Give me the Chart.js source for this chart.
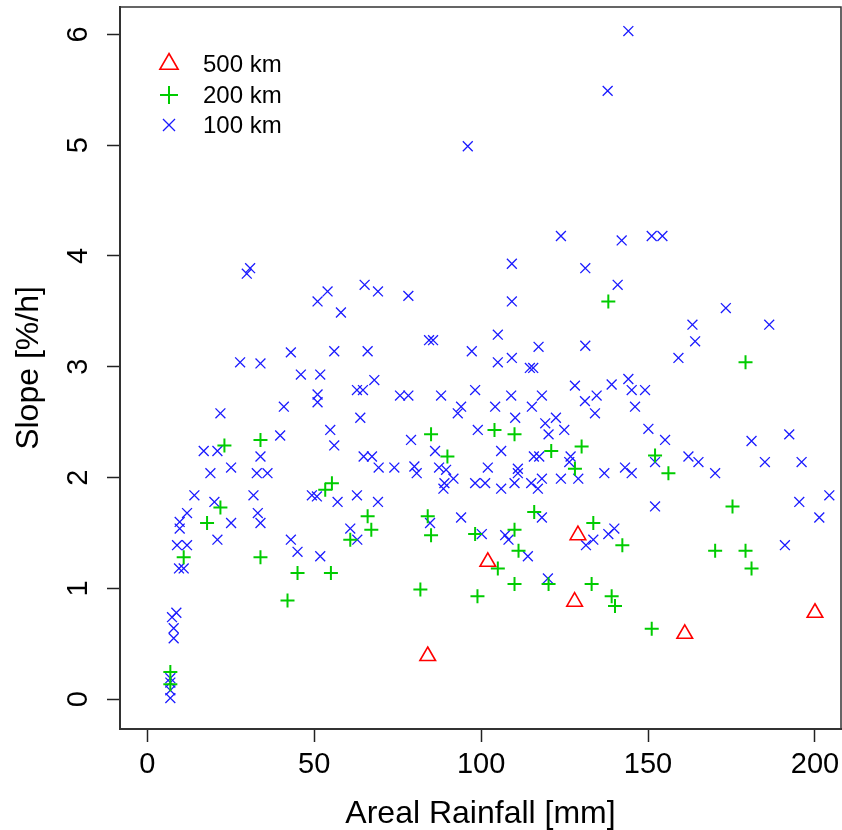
<!DOCTYPE html>
<html>
<head>
<meta charset="utf-8">
<script src="https://cdn.jsdelivr.net/npm/chart.js@4.4.1/dist/chart.umd.min.js"></script>
<style>
  html, body { margin: 0; padding: 0; background: #ffffff; }
  canvas { display: block; }
</style>
</head>
<body>
<canvas id="chart" width="842" height="830"></canvas>
<script>
// Axis ticks
const xTicks = [0, 50, 100, 150, 200];
const yTicks = [0, 1, 2, 3, 4, 5, 6];

// Series names (catchment scale)
const seriesNames = ['500 km', '200 km', '100 km'];

// 500 km: areal rainfall [mm] and slope [%/h]
const rain500  = [84, 102, 129, 128, 161, 200];
const slope500 = [0.39, 1.24, 1.48, 0.88, 0.59, 0.78];

// 200 km
const rain200 = [
  21.9, 17.9, 10.9, 33.9, 45.0, 55.0, 42.0, 60.8, 6.9, 6.9,
  23.1, 33.9, 53.3, 55.3,
  85.0, 89.9, 104.0, 110.0, 121.0, 130.1, 128.1,
  138.1, 179.2, 152.1, 156.1,
  175.3, 142.3, 170.1, 179.2, 181.0, 139.1, 140.1, 151.1,
  66.0, 67.1, 84.0, 85.0, 98.2, 81.8, 98.9, 105.0, 110.0, 111.2, 115.9, 110.0, 120.2, 133.1, 133.6
];
const slope200 = [
  1.73, 1.59, 1.28, 1.28, 1.14, 1.14, 0.89, 1.44, 0.245, 0.135,
  2.29, 2.34, 1.89, 1.95,
  2.39, 2.19, 2.43, 2.39, 2.24, 2.28, 2.08,
  3.59, 3.04, 2.20, 2.04,
  1.74, 1.39, 1.34, 1.34, 1.18, 0.93, 0.84, 0.635,
  1.65, 1.53, 1.65, 1.48, 1.49, 0.99, 0.93, 1.18, 1.53, 1.34, 1.69, 1.04, 1.04, 1.04, 1.59
];

// 100 km
const rain100 = [
  96.0, 123.9,
  144.1, 137.9, 142.1, 151.1, 154.3,
  30.8, 29.8, 54.0, 51.0, 58.0, 43.0, 56.0, 27.8, 33.9, 46.0, 51.8, 51.0, 51.0, 62.8, 64.6,
  40.9, 21.9, 63.8, 39.8, 54.8, 56.0, 16.9, 21.0, 33.9, 18.9, 25.1, 32.8, 36.0, 14.1, 31.8,
  49.3, 50.8, 62.8,
  20.1, 33.1, 33.9, 11.9, 9.7, 9.7, 25.1, 21.0, 8.9, 11.9, 9.5, 10.9, 43.0, 45.0, 51.8, 60.8,
  62.9, 8.7, 7.4, 7.9, 7.9, 6.9, 6.9, 6.9, 6.9, 57.0,
  109.2, 131.2, 65.1, 69.1, 78.2, 109.2, 84.4, 85.6, 105.0, 66.0, 97.2, 117.2, 131.2, 105.0,
  109.2, 114.6, 115.6, 68.0, 75.7, 78.2, 88.0, 98.2, 109.0, 118.2, 128.1, 131.1, 134.6, 94.0,
  93.0, 104.2, 115.2, 134.1, 110.2, 122.4, 119.2, 124.9, 99.0, 120.2, 79.0, 86.2, 106.0, 115.8,
  117.4, 126.8, 126.4, 69.3, 74.0, 80.0, 80.7, 87.4, 89.5, 91.7, 88.7, 89.0, 102.0, 111.0,
  111.0, 98.2, 101.2, 106.0, 110.0, 115.0, 117.0, 118.2, 123.9, 129.1, 64.8, 67.3,
  140.9, 173.3, 163.3, 186.3, 164.1, 159.1, 139.1, 144.1, 145.1, 149.1, 146.1, 150.1, 155.1,
  181.0, 192.3, 152.1, 162.1, 165.1, 170.1, 185.0, 196.0, 136.9, 143.1, 145.1, 204.3,
  69.1, 84.7, 94.0, 100.2, 107.2, 108.2, 118.2, 114.0, 120.0, 131.4, 133.6,
  152.1, 195.3, 201.3, 139.9, 138.1, 191.0
];
const slope100 = [
  4.99, 4.18,
  6.03, 5.49, 4.14, 4.18, 4.18,
  3.89, 3.84, 3.68, 3.59, 3.49, 3.13, 3.14, 3.04, 3.03, 2.93, 2.93, 2.75, 2.68, 2.79, 2.79,
  2.64, 2.58, 2.54, 2.38, 2.43, 2.29, 2.24, 2.24, 2.19, 2.04, 2.09, 2.04, 2.04, 1.84, 1.84,
  1.84, 1.83, 1.84,
  1.78, 1.68, 1.59, 1.68, 1.60, 1.54, 1.59, 1.44, 1.39, 1.39, 1.18, 1.18, 1.44, 1.33, 1.29, 1.54,
  1.44, 0.78, 0.74, 0.64, 0.55, 0.19, 0.15, 0.08, 0.01, 1.78,
  3.93, 3.89, 3.74, 3.68, 3.64, 3.59, 3.24, 3.24, 3.29, 3.14, 3.14, 3.18, 3.19, 3.04,
  3.08, 2.99, 2.99, 2.88, 2.74, 2.74, 2.74, 2.79, 2.74, 2.74, 2.83, 2.69, 2.74, 2.64,
  2.58, 2.64, 2.64, 2.58, 2.54, 2.54, 2.49, 2.43, 2.43, 2.39, 2.34, 2.24, 2.24, 2.19,
  2.19, 2.19, 2.14, 2.09, 2.09, 2.10, 2.04, 2.09, 2.07, 1.99, 1.90, 1.95, 2.09, 2.08,
  2.04, 1.95, 1.95, 1.90, 1.95, 1.95, 1.90, 1.99, 1.99, 1.99, 2.19, 2.19,
  3.74, 3.53, 3.38, 3.38, 3.23, 3.08, 2.84, 2.89, 2.79, 2.79, 2.64, 2.44, 2.34,
  2.33, 2.39, 2.14, 2.19, 2.14, 2.04, 2.14, 2.14, 2.04, 2.09, 2.04, 1.84,
  1.78, 1.59, 1.64, 1.49, 1.48, 1.44, 1.64, 1.29, 1.09, 1.39, 1.44,
  1.74, 1.78, 1.64, 1.54, 1.49, 1.39
];

const FONT = "'Liberation Sans', Arial, Helvetica, sans-serif";

const toPoints = (xs, ys) => xs.map((x, i) => ({ x: x, y: ys[i] }));

const styles = [
  { color: '#ff0000', pointStyle: 'triangle', radius: 9,   width: 1.6, legendRadius: 10.5 },
  { color: '#00cc00', pointStyle: 'cross',    radius: 7,   width: 2.0, legendRadius: 9 },
  { color: '#1a1aff', pointStyle: 'crossRot', radius: 7,   width: 1.3, legendRadius: 8.5 }
];

const seriesData = [
  toPoints(rain500, slope500),
  toPoints(rain200, slope200),
  toPoints(rain100, slope100)
];

const datasets = seriesNames.map((name, i) => ({
  label: name,
  data: seriesData[i],
  pointStyle: styles[i].pointStyle,
  pointRadius: styles[i].radius,
  pointHoverRadius: styles[i].radius,
  pointBorderColor: styles[i].color,
  pointBackgroundColor: 'rgba(0,0,0,0)',
  pointBorderWidth: styles[i].width,
  showLine: false
}));

// Full box around the plotting region
const framePlugin = {
  id: 'frame',
  afterDraw(chart) {
    const { ctx, chartArea: a } = chart;
    ctx.save();
    ctx.strokeStyle = '#333333';
    ctx.lineWidth = 1.5;
    ctx.strokeRect(a.left, a.top, a.right - a.left, a.bottom - a.top);
    ctx.restore();
  }
};

function drawSymbol(ctx, style, r, x, y) {
  ctx.save();
  ctx.strokeStyle = style.color;
  ctx.fillStyle = 'rgba(0,0,0,0)';
  ctx.lineWidth = style.width;
  if (Chart.helpers && Chart.helpers.drawPoint) {
    Chart.helpers.drawPoint(ctx, { pointStyle: style.pointStyle, radius: r, borderWidth: style.width, rotation: 0 }, x, y);
  } else {
    ctx.beginPath();
    if (style.pointStyle === 'triangle') {
      for (let k = 0; k < 3; k++) {
        const ang = k * 2 * Math.PI / 3;
        const px = x + Math.sin(ang) * r, py = y - Math.cos(ang) * r;
        if (k === 0) ctx.moveTo(px, py); else ctx.lineTo(px, py);
      }
      ctx.closePath();
    } else if (style.pointStyle === 'crossRot') {
      const d = r * Math.SQRT1_2;
      ctx.moveTo(x - d, y - d); ctx.lineTo(x + d, y + d);
      ctx.moveTo(x + d, y - d); ctx.lineTo(x - d, y + d);
    } else {
      ctx.moveTo(x - r, y); ctx.lineTo(x + r, y);
      ctx.moveTo(x, y - r); ctx.lineTo(x, y + r);
    }
    ctx.stroke();
  }
  ctx.restore();
}

// Legend in the upper-left corner of the plot
const legendPlugin = {
  id: 'cornerLegend',
  afterDraw(chart) {
    const ctx = chart.ctx;
    const a = chart.chartArea;
    const symX = a.left + 49;
    const textX = a.left + 83;
    const rowY = [a.top + 57, a.top + 88, a.top + 118];
    seriesNames.forEach((name, i) => {
      drawSymbol(ctx, styles[i], styles[i].legendRadius, symX, rowY[i]);
      ctx.save();
      ctx.fillStyle = '#000000';
      ctx.font = '24px ' + FONT;
      ctx.textAlign = 'left';
      ctx.textBaseline = 'middle';
      ctx.fillText(name, textX, rowY[i] + 1);
      ctx.restore();
    });
  }
};

// Fixed axis sizes; no extra room reserved for overhanging tick labels
function fixX(s) {
  s.height = 101;
  s.paddingLeft = 0; s.paddingRight = 0; s.paddingTop = 0; s.paddingBottom = 0;
}
function fixY(s) {
  s.width = 120;
  s.paddingLeft = 0; s.paddingRight = 0; s.paddingTop = 0; s.paddingBottom = 0;
}

new Chart(document.getElementById('chart'), {
  type: 'scatter',
  data: { datasets: datasets },
  options: {
    responsive: false,
    animation: false,
    events: [],
    layout: { autoPadding: false, padding: { top: 7, right: 1, left: 0, bottom: 0 } },
    plugins: {
      legend: { display: false },
      tooltip: { enabled: false }
    },
    scales: {
      x: {
        type: 'linear',
        min: -8.18,
        max: 207.8,
        afterBuildTicks: (s) => { s.ticks = xTicks.map(v => ({ value: v })); },
        afterFit: fixX,
        grid: { drawOnChartArea: false, drawTicks: true, tickLength: 13, tickColor: '#222222', tickWidth: 1.5 },
        border: { display: true, color: '#333333', width: 2 },
        ticks: { color: '#000000', font: { family: FONT, size: 29 }, padding: 6, maxRotation: 0, autoSkip: false },
        title: { display: true, text: 'Areal Rainfall [mm]', color: '#000000', font: { family: FONT, size: 32 }, padding: { top: 0, bottom: -3 } }
      },
      y: {
        type: 'linear',
        min: -0.269,
        max: 6.247,
        afterBuildTicks: (s) => { s.ticks = yTicks.map(v => ({ value: v })); },
        afterFit: fixY,
        grid: { drawOnChartArea: false, drawTicks: true, tickLength: 13, tickColor: '#222222', tickWidth: 1.5 },
        border: { display: true, color: '#333333', width: 2 },
        ticks: { color: '#000000', font: { family: FONT, size: 29 }, padding: 20, minRotation: 90, maxRotation: 90, crossAlign: 'center', autoSkip: false },
        title: { display: true, text: 'Slope [%/h]', color: '#000000', font: { family: FONT, size: 32 }, padding: { top: 10, bottom: 0 } }
      }
    }
  },
  plugins: [framePlugin, legendPlugin]
});
</script>
</body>
</html>
